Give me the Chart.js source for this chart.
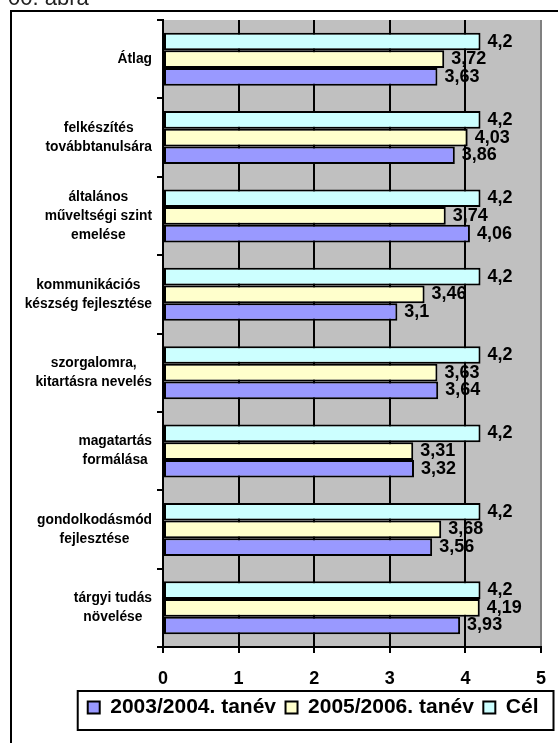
<!DOCTYPE html>
<html>
<head>
<meta charset="utf-8">
<script src="https://cdn.jsdelivr.net/npm/chart.js@4.4.0/dist/chart.umd.min.js"></script>
<style>
  html, body { margin: 0; padding: 0; background: #fff; }
</style>
</head>
<body>
<canvas id="chart" width="558" height="743"></canvas>
<script>
// --- DATA ---
const categories = [
    ['Átlag'],
    ['felkészítés', 'továbbtanulsára'],
    ['általános', 'műveltségi szint', 'emelése'],
    ['kommunikációs', 'készség fejlesztése'],
    ['szorgalomra,', 'kitartásra nevelés'],
    ['magatartás', 'formálása'],
    ['gondolkodásmód', 'fejlesztése'],
    ['tárgyi tudás', 'növelése']
];
const tanev0304 = [3.63, 3.86, 4.06, 3.1, 3.64, 3.32, 3.56, 3.93];
const tanev0506 = [3.72, 4.03, 3.74, 3.46, 3.63, 3.31, 3.68, 4.19];
const cel = [4.2, 4.2, 4.2, 4.2, 4.2, 4.2, 4.2, 4.2];
const seriesNames = ['2003/2004. tanév', '2005/2006. tanév', 'Cél'];
const xMin = 0, xMax = 5, xStep = 1;

const FAMILY = 'Arial, "Liberation Sans", sans-serif';
const boldFont = size => ({ family: FAMILY, size: size, weight: 'bold' });

// --- PLUGINS ---
// page frame, caption and grey plot background
const framePlugin = {
    id: 'frame',
    beforeDraw(chart) {
        const ctx = chart.ctx;
        const a = chart.chartArea;
        ctx.save();
        ctx.fillStyle = '#fff';
        ctx.fillRect(0, 0, chart.width, chart.height);
        ctx.fillStyle = '#222';
        ctx.font = '22px ' + FAMILY;
        ctx.textBaseline = 'alphabetic';
        ctx.fillText('00. ábra', 8, 5);
        ctx.strokeStyle = '#000';
        ctx.lineWidth = 2;
        ctx.strokeRect(11, 11, 600, 760);
        ctx.fillStyle = '#C0C0C0';
        ctx.fillRect(a.left, a.top, a.right - a.left, a.bottom - a.top);
        ctx.restore();
    }
};

// category labels: block right aligned, lines centred (Excel style)
const yLabelsPlugin = {
    id: 'yLabels',
    afterDraw(chart) {
        const s = chart.scales.y;
        const ctx = chart.ctx;
        ctx.save();
        ctx.font = 'bold 13.8px ' + FAMILY;
        ctx.fillStyle = '#000';
        ctx.textAlign = 'center';
        ctx.textBaseline = 'middle';
        const right = s.right - 11;
        categories.forEach((lines, i) => {
            const y = s.getPixelForTick(i);
            const w = Math.max(...lines.map(l => ctx.measureText(l).width));
            const cx = right - w / 2;
            lines.forEach((l, j) => {
                ctx.fillText(l, cx, y + (j - (lines.length - 1) / 2) * 19);
            });
        });
        ctx.restore();
    }
};

// value labels at bar ends
const valueLabelsPlugin = {
    id: 'valueLabels',
    afterDatasetsDraw(chart) {
        const ctx = chart.ctx;
        ctx.save();
        ctx.font = 'bold 18px ' + FAMILY;
        ctx.fillStyle = '#000';
        ctx.textAlign = 'left';
        ctx.textBaseline = 'middle';
        chart.data.datasets.forEach((ds, di) => {
            const meta = chart.getDatasetMeta(di);
            meta.data.forEach((bar, i) => {
                ctx.fillText(String(ds.data[i]).replace('.', ','), bar.x + 7, bar.y);
            });
        });
        ctx.restore();
    }
};

// border round the legend
const legendBoxPlugin = {
    id: 'legendBox',
    afterDraw(chart) {
        const boxes = chart.legend.legendHitBoxes;
        if (!boxes || !boxes.length) return;
        const ctx = chart.ctx;
        const l = Math.min(...boxes.map(b => b.left)) - 10;
        const r = Math.max(...boxes.map(b => b.left + b.width)) + 15;
        const t = boxes[0].top - 6;
        const b = boxes[0].top + boxes[0].height + 12;
        ctx.save();
        ctx.strokeStyle = '#000';
        ctx.lineWidth = 2;
        ctx.strokeRect(l, t, r - l, b - t);
        ctx.restore();
    }
};

// --- CHART ---
new Chart(document.getElementById('chart'), {
    type: 'bar',
    data: {
        labels: categories,
        datasets: [
            { label: seriesNames[2], data: cel, backgroundColor: '#CCFFFF' },
            { label: seriesNames[1], data: tanev0506, backgroundColor: '#FFFFCC' },
            { label: seriesNames[0], data: tanev0304, backgroundColor: '#9999FF' }
        ].map(d => Object.assign(d, {
            borderColor: '#000',
            borderWidth: 2,
            borderSkipped: false,
            categoryPercentage: 0.675,
            barPercentage: 1.0
        }))
    },
    options: {
        indexAxis: 'y',
        responsive: false,
        animation: false,
        events: [],
        layout: { padding: { top: 20, right: 10, left: 0, bottom: 15 } },
        plugins: {
            tooltip: { enabled: false },
            legend: {
                position: 'bottom',
                align: 'end',
                reverse: true,
                labels: {
                    color: '#000',
                    font: boldFont(21),
                    boxWidth: 12,
                    boxHeight: 12,
                    padding: 9.5
                }
            }
        },
        scales: {
            x: {
                min: xMin,
                max: xMax,
                ticks: { stepSize: xStep, color: '#000', font: boldFont(18), padding: 15 },
                grid: {
                    color: c => (c.tick && c.tick.value === xMax) ? '#808080' : '#000',
                    tickColor: '#000',
                    lineWidth: 2,
                    tickLength: 6
                },
                border: { color: '#000', width: 2 },
                afterFit(s) { s.height = 40.5; s.paddingRight = 17; }
            },
            y: {
                ticks: { display: false },
                grid: { drawOnChartArea: false, color: '#000', lineWidth: 2, tickLength: 6 },
                border: { color: '#000', width: 2 },
                afterFit(s) { s.width = 163; }
            }
        }
    },
    plugins: [framePlugin, yLabelsPlugin, valueLabelsPlugin, legendBoxPlugin]
});
</script>
</body>
</html>
